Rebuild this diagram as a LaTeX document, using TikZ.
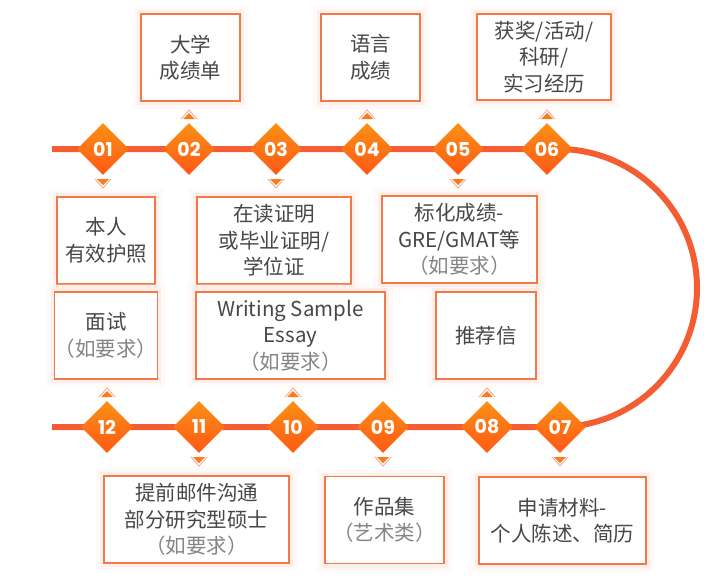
\documentclass[tikz,border=0pt]{standalone}
\usepackage{fontspec}
\setmainfont{Noto Sans CJK SC}
\newfontfamily\numfont{Poppins}
\usetikzlibrary{shapes.geometric,backgrounds}

\definecolor{pathred}{HTML}{F45D32}
\definecolor{diatop}{HTML}{FA9014}
\definecolor{diabot}{HTML}{FF5816}
\definecolor{boxline}{HTML}{F2784A}
\definecolor{boxglow}{HTML}{FCDCCD}
\definecolor{txtdark}{HTML}{474747}
\definecolor{txtgrey}{HTML}{858585}
\definecolor{chevfill}{HTML}{FA7A1C}
\definecolor{chevline}{HTML}{F6A585}

\tikzset{
  stepdia/.style={shape=diamond, minimum width=52, minimum height=52, inner sep=0,
    top color=diatop, bottom color=diabot, text=white,
    font=\numfont\bfseries\fontsize{19}{19}\selectfont},
  infobox/.style={draw=boxline, line width=1.2, fill=white, align=center, inner sep=0,
    text=txtdark, font=\fontsize{20.5}{26.5}\selectfont,
    preaction={draw=boxglow!50, line width=16, opacity=.25},
    preaction={draw=boxglow, line width=8, opacity=.35}},
  pathline/.style={draw=pathred, line width=6},
}
\newcommand{\req}{\textcolor{txtgrey}{（如要求）}}
\newcommand{\chevdown}[1]{%
  \fill[chevfill] ([shift={(-6,30)}]#1.center) -- ++(12,0) -- ++(-6,6) -- cycle;
  \draw[chevline, line width=0.8] ([shift={(-8,30)}]#1.center) -- ++(8,9) -- ++(8,-9);}
\newcommand{\chevup}[1]{%
  \fill[chevfill] ([shift={(-6,-30)}]#1.center) -- ++(12,0) -- ++(-6,-6) -- cycle;
  \draw[chevline, line width=0.8] ([shift={(-8,-30)}]#1.center) -- ++(8,-9) -- ++(8,9);}

\begin{document}
\begin{tikzpicture}[x=1pt, y=-1pt]
    \useasboundingbox (0,0) rectangle (704,579);

    % Top boxes
    \node[infobox, minimum width=99, minimum height=87] (b2) at (190.5,57.5) {大学\\成绩单};
    \node[infobox, minimum width=99, minimum height=87] (b4) at (370.5,57.5) {语言\\成绩};
    \node[infobox, minimum width=134, minimum height=86] (b6) at (544,57) {获奖/活动/\\科研/\\实习经历};

    % Row 1
    \node[stepdia] (d1) at (103,149) {01};
    \node[stepdia] (d2) at (189,149) {02};
    \node[stepdia] (d3) at (276,149) {03};
    \node[stepdia] (d4) at (367,149) {04};
    \node[stepdia] (d5) at (458,149) {05};
    \node[stepdia] (d6) at (547,149) {06};

    % Middle boxes
    \node[infobox, minimum width=98, minimum height=87] (b1) at (106,240.5) {本人\\有效护照};
    \node[infobox, minimum width=154, minimum height=87] (b3) at (274,240.5) {在读证明\\或毕业证明/\\学位证};
    \node[infobox, minimum width=155, minimum height=87] (b5) at (459.5,239.5) {标化成绩-\\GRE/GMAT等\\\req};
    \node[infobox, minimum width=98, minimum height=87] (b12) at (106,335.5) {面试\\\req};
    \node[infobox, minimum width=189, minimum height=87] (b10) at (290.5,335.5) {Writing Sample\\Essay\\\req};
    \node[infobox, minimum width=100, minimum height=87] (b8) at (486,335.5) {推荐信};

    % Row 2
    \node[stepdia] (d12) at (107,427) {12};
    \node[stepdia] (d11) at (199,427) {11};
    \node[stepdia] (d10) at (293,427) {10};
    \node[stepdia] (d9) at (383,427) {09};
    \node[stepdia] (d8) at (487,427) {08};
    \node[stepdia] (d7) at (560,427) {07};

    % Bottom boxes
    \node[infobox, minimum width=185, minimum height=87] (b11) at (196.5,519.5) {提前邮件沟通\\部分研究型硕士\\\req};
    \node[infobox, minimum width=119, minimum height=87] (b9) at (384.5,520) {作品集\\\textcolor{txtgrey}{（艺术类）}};
    \node[infobox, minimum width=167, minimum height=87] (b7) at (562.5,520.5) {申请材料-\\个人陈述、简历};

    % Track
    \coordinate (ts) at (52,149);
    \coordinate (tr) at (558,149);
    \coordinate (bs) at (52,427);
    \begin{scope}[on background layer]
      \draw[pathline] (ts) -- (tr) arc[start angle=-90, end angle=90, radius=139] -- (bs);
    \end{scope}

    % Pointers
    \foreach \n in {1,3,5,7,9,11} {\chevdown{d\n}}
    \foreach \n in {2,4,6,8,10,12} {\chevup{d\n}}
\end{tikzpicture}
\end{document}
